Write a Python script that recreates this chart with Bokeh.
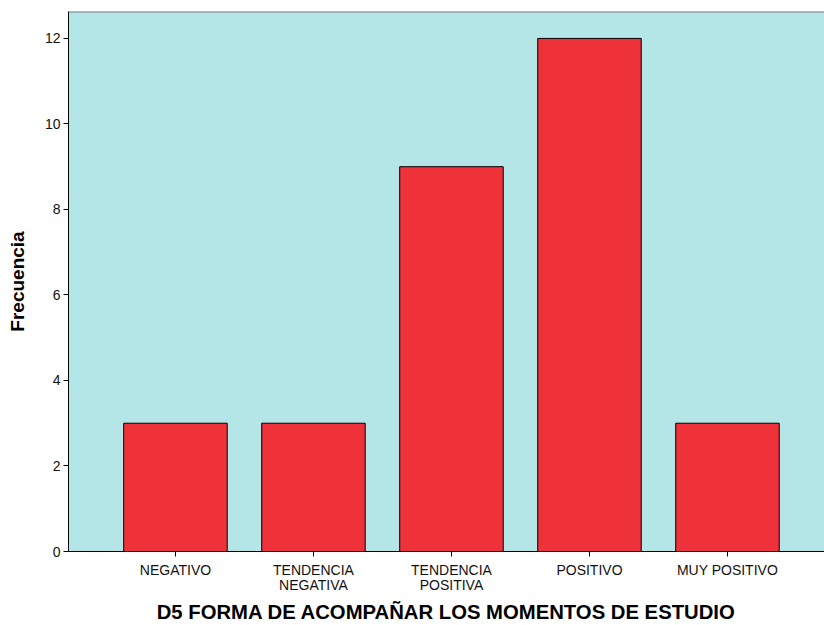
from bokeh.plotting import figure
from bokeh.models import Range1d, FixedTicker, Span
from bokeh.embed import file_html
from bokeh.resources import INLINE

categories = ["NEGATIVO", "TENDENCIA\nNEGATIVA", "TENDENCIA\nPOSITIVA", "POSITIVO", "MUY POSITIVO"]
frecuencia = [3, 3, 9, 12, 3]
y_ticks = [0, 2, 4, 6, 8, 10, 12]

x_pos = list(range(len(categories)))

FONT = "Liberation Sans"
Y_TOP = 12.63

p = figure(width=824, height=625, output_backend="svg", toolbar_location=None,
           x_range=Range1d(-0.775, 4.703), y_range=Range1d(0, Y_TOP),
           min_border_left=68, min_border_right=0, min_border_top=11, min_border_bottom=74)

p.background_fill_color = "#b4e6e8"
p.border_fill_color = "white"
p.outline_line_color = None
p.xgrid.visible = False
p.ygrid.visible = False

p.vbar(x=x_pos, top=frecuencia, width=0.75, fill_color="#ef323a", line_color="black", line_width=1)

p.add_layout(Span(location=Y_TOP, dimension="width", line_color="#808080", line_width=2))

# x axis
xa = p.xaxis[0]
xa.ticker = FixedTicker(ticks=x_pos)
xa.major_label_overrides = {i: c for i, c in zip(x_pos, categories)}
xa.major_tick_in = 0
xa.major_tick_out = 5
xa.minor_tick_line_color = None
xa.axis_line_color = "black"
xa.major_tick_line_color = "black"
xa.major_label_text_font = FONT
xa.major_label_text_font_size = "14px"
xa.major_label_text_color = "#111111"
xa.major_label_text_line_height = 0.95
xa.major_label_standoff = 5
xa.axis_label = "D5 FORMA DE ACOMPAÑAR LOS MOMENTOS DE ESTUDIO"
xa.axis_label_text_font = FONT
xa.axis_label_text_font_style = "bold"
xa.axis_label_text_font_size = "20.3px"
xa.axis_label_text_color = "black"
xa.axis_label_standoff = 5

# y axis
ya = p.yaxis[0]
ya.ticker = FixedTicker(ticks=y_ticks)
ya.major_tick_in = 0
ya.major_tick_out = 5
ya.minor_tick_line_color = None
ya.axis_line_color = "black"
ya.major_tick_line_color = "black"
ya.major_label_text_font = FONT
ya.major_label_text_font_size = "14px"
ya.major_label_text_color = "#111111"
ya.major_label_standoff = 3
ya.axis_label = "Frecuencia"
ya.axis_label_text_font = FONT
ya.axis_label_text_font_style = "bold"
ya.axis_label_text_font_size = "19px"
ya.axis_label_text_color = "black"
ya.axis_label_standoff = 14

open("out.html", "w").write(file_html(p, INLINE))
